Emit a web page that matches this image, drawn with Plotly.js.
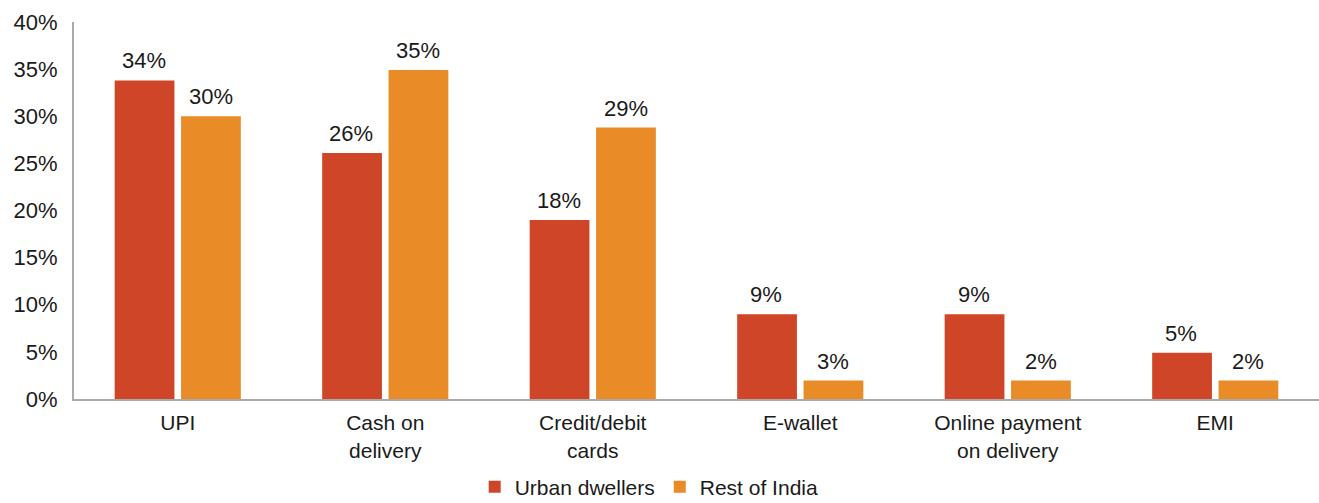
<!DOCTYPE html>
<html>
<head>
<meta charset="utf-8">
<script src="https://cdn.plot.ly/plotly-3.0.1.min.js"></script>
<style>html,body{margin:0;padding:0;background:#fff}#chart{width:1319px;height:503px}</style>
</head>
<body>
<div id="chart"></div>
<script>
const categories = ["UPI", "Cash on<br>delivery", "Credit/debit<br>cards", "E-wallet", "Online payment<br>on delivery", "EMI"];
const urbanValues = [33.8, 26.1, 19.0, 9.0, 9.0, 4.9];
const restValues = [30.0, 34.9, 28.8, 1.95, 1.95, 1.95];
const urbanLabels = ["34%", "26%", "18%", "9%", "9%", "5%"];
const restLabels = ["30%", "35%", "29%", "3%", "2%", "2%"];
const yTickVals = [0, 5, 10, 15, 20, 25, 30, 35, 40];

const font = "Liberation Sans, Arial, Helvetica, sans-serif";
const txtColor = "#1a1a1a";
const fs = 22;
const traces = [
  {type: "bar", name: "Urban dwellers", x: categories, y: urbanValues,
   marker: {color: "#CF4527"}, hoverinfo: "skip"},
  {type: "bar", name: "Rest of India", x: categories, y: restValues,
   marker: {color: "#E98B26"}, hoverinfo: "skip"}
];
const annotations = [];
categories.forEach((c, i) => {
  annotations.push({x: c, y: urbanValues[i], xref: "x", yref: "y", text: urbanLabels[i],
    showarrow: false, xshift: -34, yshift: 5, yanchor: "bottom", font: {family: font, size: fs, color: txtColor}});
  annotations.push({x: c, y: restValues[i], xref: "x", yref: "y", text: restLabels[i],
    showarrow: false, xshift: 33, yshift: 5, yanchor: "bottom", font: {family: font, size: fs, color: txtColor}});
});
const layout = {
  width: 1319, height: 503,
  margin: {l: 74, r: 0, t: 22, b: 104, autoexpand: false},
  paper_bgcolor: "#fff", plot_bgcolor: "#fff",
  font: {family: font, size: fs, color: txtColor},
  barmode: "group", bargap: 0.36, bargroupgap: 0.1,
  annotations: annotations,
  xaxis: {type: "category", showgrid: false, zeroline: false, showline: true,
          linecolor: "#aaaaaa", linewidth: 2, ticks: "", ticklabelstandoff: 4,
          tickfont: {size: 21, family: font, color: txtColor},
          fixedrange: true, automargin: false},
  yaxis: {range: [0, 40], tickmode: "array", tickvals: yTickVals, ticktext: yTickVals.map(v => v + "%"),
          showgrid: false, zeroline: false, automargin: false,
          showline: true, linecolor: "#aaaaaa", linewidth: 2, ticks: "", ticklabelstandoff: 10,
          tickfont: {size: fs, family: font, color: txtColor}, fixedrange: true},
  showlegend: true,
  legend: {orientation: "h", x: 0.462, xanchor: "center", y: -0.234, yanchor: "middle",
           font: {size: 21, family: font, color: txtColor}, itemwidth: 30, traceorder: "normal"}
};
Plotly.newPlot("chart", traces, layout, {displayModeBar: false, staticPlot: true});
</script>
</body>
</html>
